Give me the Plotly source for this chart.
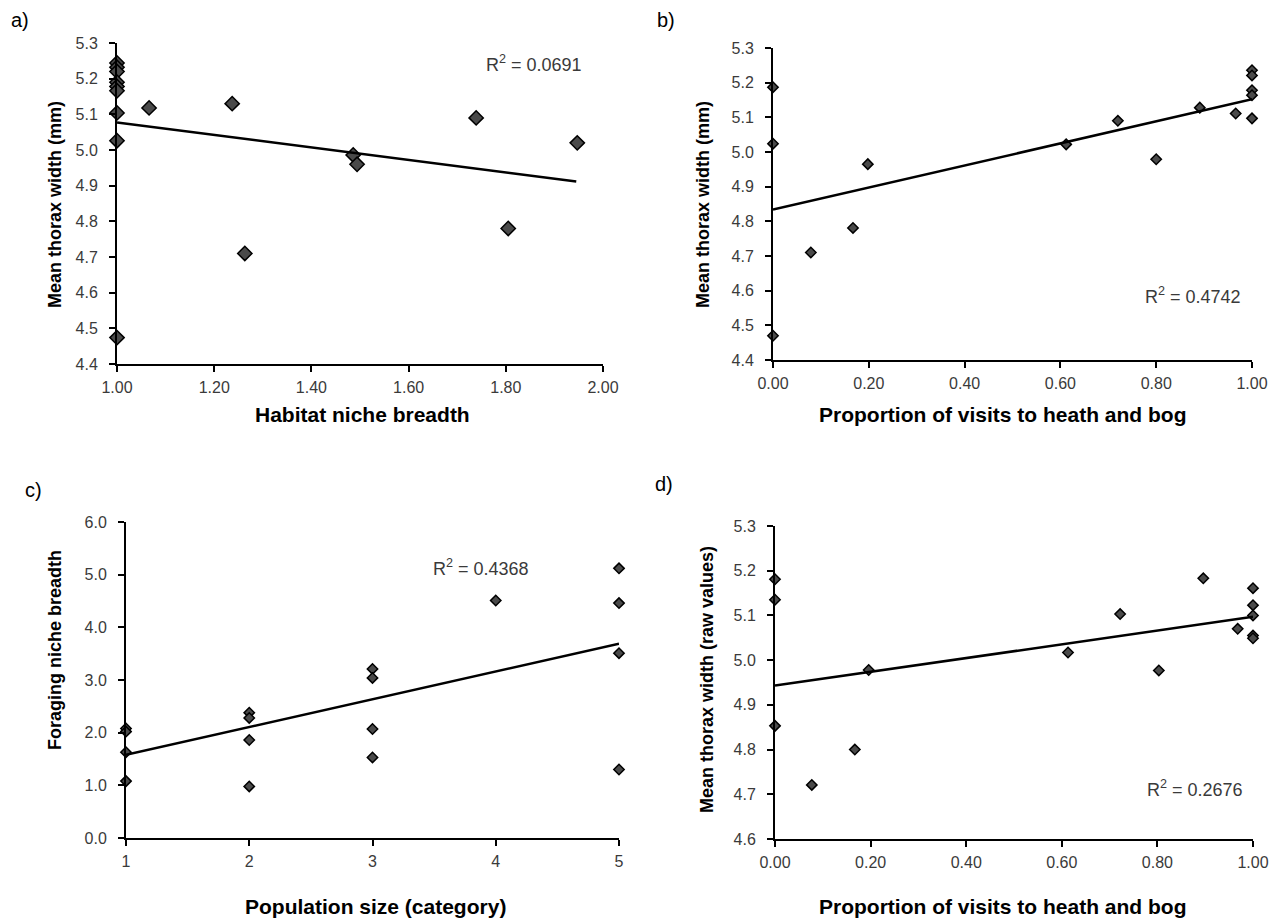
import plotly.graph_objects as go

W, H = 1280, 923

# ---------------- data ----------------
# a) Habitat niche breadth vs mean thorax width
a_x = [1.00, 1.00, 1.00, 1.00, 1.00, 1.00, 1.00, 1.00, 1.00, 1.066, 1.237, 1.263, 1.486, 1.494, 1.739, 1.805, 1.947]
a_y = [5.244, 5.232, 5.220, 5.190, 5.178, 5.166, 5.104, 5.026, 4.474, 5.118, 5.130, 4.710, 4.986, 4.960, 5.090, 4.780, 5.020]
a_trend_x = [1.00, 1.945]
a_trend_y = [5.077, 4.912]
a_r2 = "R<sup>2</sup> = 0.0691"

# b) Proportion of visits to heath and bog vs mean thorax width
b_x = [0.00, 0.00, 0.00, 0.079, 0.167, 0.198, 0.612, 0.720, 0.800, 0.891, 0.966, 1.00, 1.00, 1.00, 1.00, 1.00]
b_y = [5.187, 5.024, 4.470, 4.710, 4.781, 4.965, 5.022, 5.090, 4.979, 5.128, 5.111, 5.097, 5.236, 5.221, 5.178, 5.164]
b_trend_x = [0.00, 1.00]
b_trend_y = [4.834, 5.152]
b_r2 = "R<sup>2</sup> = 0.4742"

# c) Population size (category) vs foraging niche breadth
c_x = [1, 1, 1, 1, 2, 2, 2, 2, 3, 3, 3, 3, 4, 5, 5, 5, 5]
c_y = [2.08, 2.02, 1.63, 1.08, 2.38, 2.28, 1.86, 0.98, 3.21, 3.04, 2.07, 1.53, 4.51, 5.12, 4.46, 3.51, 1.30]
c_trend_x = [1, 5]
c_trend_y = [1.58, 3.69]
c_r2 = "R<sup>2</sup> = 0.4368"

# d) Proportion of visits to heath and bog vs mean thorax width (raw values)
d_x = [0.00, 0.00, 0.00, 0.077, 0.167, 0.196, 0.613, 0.722, 0.803, 0.896, 0.968, 1.00, 1.00, 1.00, 1.00, 1.00]
d_y = [5.181, 5.135, 4.853, 4.721, 4.800, 4.978, 5.017, 5.103, 4.977, 5.183, 5.070, 5.161, 5.123, 5.100, 5.055, 5.049]
d_trend_x = [0.00, 1.00]
d_trend_y = [4.943, 5.097]
d_r2 = "R<sup>2</sup> = 0.2676"

a_yticks = [4.4, 4.5, 4.6, 4.7, 4.8, 4.9, 5.0, 5.1, 5.2, 5.3]
a_xticks = [1.0, 1.2, 1.4, 1.6, 1.8, 2.0]
b_xticks = [0.0, 0.2, 0.4, 0.6, 0.8, 1.0]
c_yticks = [0.0, 1.0, 2.0, 3.0, 4.0, 5.0, 6.0]
c_xticks = [1, 2, 3, 4, 5]
d_yticks = [4.6, 4.7, 4.8, 4.9, 5.0, 5.1, 5.2, 5.3]

# ---------------- layout helpers ----------------
def dx(p0, p1):
    return [p0 / W, p1 / W]

def dy(top, bottom):
    return [1 - bottom / H, 1 - top / H]

FONT = "Liberation Sans, Arial, sans-serif"
TICKFONT = dict(family=FONT, size=16, color="#3a3a3a")
XTITLEFONT = dict(family=FONT, size=21, color="#000000")
YTITLEFONT = dict(family=FONT, size=18, color="#000000")

panels = [
    ("1", a_x, a_y, a_trend_x, a_trend_y, a_r2, dx(117, 603), dy(43, 364), [1.0, 2.0], [4.4, 5.3],
     a_xticks, a_yticks, ".2f", ".1f", "Habitat niche breadth", "Mean thorax width (mm)", 11),
    ("2", b_x, b_y, b_trend_x, b_trend_y, b_r2, dx(773, 1252), dy(48, 360), [0.0, 1.0], [4.4, 5.3],
     b_xticks, a_yticks, ".2f", ".1f", "Proportion of visits to heath and bog", "Mean thorax width (mm)", 8),
    ("3", c_x, c_y, c_trend_x, c_trend_y, c_r2, dx(126, 619), dy(522, 838), [1, 5], [0.0, 6.0],
     c_xticks, c_yticks, "d", ".1f", "Population size (category)", "Foraging niche breadth", 8),
    ("4", d_x, d_y, d_trend_x, d_trend_y, d_r2, dx(775, 1253), dy(526, 839), [0.0, 1.0], [4.6, 5.3],
     b_xticks, d_yticks, ".2f", ".1f", "Proportion of visits to heath and bog", "Mean thorax width (raw values)", 8),
]

fig = go.Figure()
layout = dict(
    width=W, height=H, margin=dict(l=0, r=0, t=0, b=0, autoexpand=False),
    paper_bgcolor="white", plot_bgcolor="white", showlegend=False,
    annotations=[],
)

r2_pos = {"1": (534, 63), "2": (1193, 295), "3": (481, 567), "4": (1195, 788)}
xtitle_pos = {"1": (362, 414), "2": (1003, 414), "3": (375, 906), "4": (1003, 906)}
ytitle_pos = {"1": (55, 205), "2": (703, 205), "3": (55, 650), "4": (707, 680)}

for (name, x, y, tx, ty, r2, xd, yd, xr, yr, xt, yt, xf, yf, xtitle, ytitle, ms) in panels:
    xa = "x" if name == "1" else "x" + name
    ya = "y" if name == "1" else "y" + name
    fig.add_trace(go.Scatter(
        x=x, y=y, mode="markers", xaxis=xa, yaxis=ya, cliponaxis=False,
        marker=dict(symbol="diamond", size=ms, color="#4a4a4a",
                    line=dict(color="#000000", width=1.5)),
    ))
    fig.add_trace(go.Scatter(
        x=tx, y=ty, mode="lines", xaxis=xa, yaxis=ya, cliponaxis=False,
        line=dict(color="#000000", width=2.5),
    ))
    xkey = "xaxis" if name == "1" else "xaxis" + name
    ykey = "yaxis" if name == "1" else "yaxis" + name
    layout[xkey] = dict(
        domain=xd, range=xr, anchor=ya, tickvals=xt, tickformat=xf, automargin=False,
        showgrid=False, zeroline=False, showline=True, linecolor="#000000", linewidth=2,
        ticks="outside", ticklen=6, tickwidth=1.5, tickcolor="#000000",
        tickfont=TICKFONT, fixedrange=True, ticklabelstandoff=2,
    )
    layout[ykey] = dict(
        domain=yd, range=yr, anchor=xa, tickvals=yt, tickformat=yf, automargin=False,
        showgrid=False, zeroline=False, showline=True, linecolor="#000000", linewidth=2,
        ticks="outside", ticklen=6, tickwidth=1.5, tickcolor="#000000",
        tickfont=TICKFONT, fixedrange=True, ticklabelstandoff=8,
    )
    rx, ry = r2_pos[name]
    layout["annotations"].append(dict(
        text=r2, x=rx / W, y=1 - ry / H, xref="paper", yref="paper",
        showarrow=False, xanchor="center", yanchor="middle",
        font=dict(family=FONT, size=18, color="#3a3a3a"),
    ))
    px_, py_ = xtitle_pos[name]
    layout["annotations"].append(dict(
        text="<b>" + xtitle + "</b>", x=px_ / W, y=1 - py_ / H, xref="paper", yref="paper",
        showarrow=False, xanchor="center", yanchor="middle", font=XTITLEFONT,
    ))
    qx, qy = ytitle_pos[name]
    layout["annotations"].append(dict(
        text="<b>" + ytitle + "</b>", x=qx / W, y=1 - qy / H, xref="paper", yref="paper",
        showarrow=False, xanchor="center", yanchor="middle", textangle=-90, font=YTITLEFONT,
    ))

for lbl, lx, ly in [("a)", 20, 20), ("b)", 666, 20), ("c)", 33, 490), ("d)", 664, 484)]:
    layout["annotations"].append(dict(
        text=lbl, x=lx / W, y=1 - ly / H, xref="paper", yref="paper",
        showarrow=False, xanchor="center", yanchor="middle",
        font=dict(family=FONT, size=20, color="#000000"),
    ))

fig.update_layout(**layout)
fig.write_html("out.html")
